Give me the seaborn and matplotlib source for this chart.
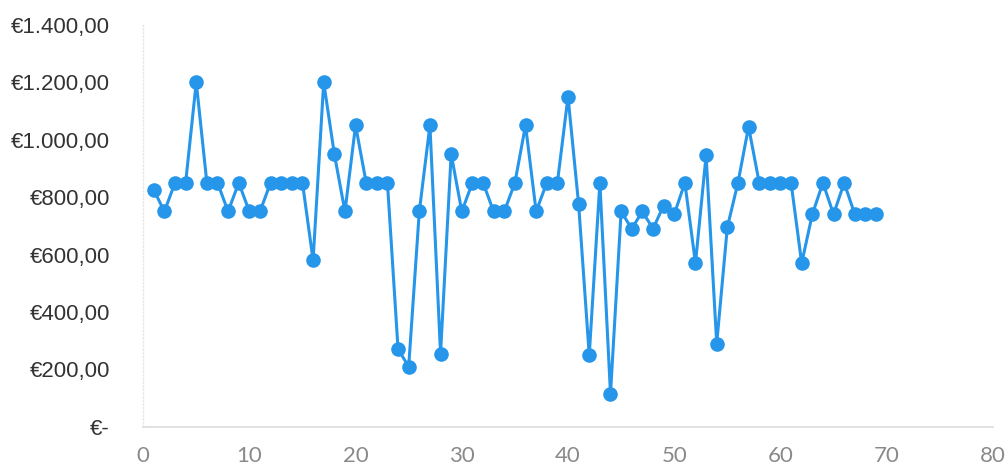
import numpy as np
import pandas as pd
import matplotlib
matplotlib.use("Agg")
import matplotlib.pyplot as plt
import seaborn as sns
from matplotlib.ticker import FuncFormatter

# values (euro amounts per index)
index = list(range(1, 70))
amount = [
    825, 750, 850, 850, 1200, 850, 850, 750, 850, 750,
    750, 850, 850, 850, 850, 580, 1200, 950, 750, 1050,
    850, 850, 850, 270, 210, 750, 1050, 255, 950, 750,
    850, 850, 750, 750, 850, 1050, 750, 850, 850, 1150,
    775, 250, 850, 115, 750, 690, 750, 690, 770, 740,
    850, 570, 945, 290, 695, 850, 1045, 850, 850, 850,
    850, 570, 740, 850, 740, 850, 740, 740, 740,
]
y_ticks = [0, 200, 400, 600, 800, 1000, 1200, 1400]
x_ticks = [0, 10, 20, 30, 40, 50, 60, 70, 80]

df = pd.DataFrame({"index": index, "amount": amount})

sns.set_style("white")
plt.rcParams["font.family"] = ["Liberation Sans", "DejaVu Sans"]

fig = plt.figure(figsize=(10.08, 4.69), dpi=100)
ax = fig.add_axes([0.142, 0.09, 0.843, 0.857])

sns.lineplot(data=df, x="index", y="amount", ax=ax, color="#2596ea",
             linewidth=2.2, marker="o", markersize=10.5, markeredgewidth=0)


def euro(v, pos):
    if v == 0:
        return "€-"
    s = f"{v:,.2f}".replace(",", "X").replace(".", ",").replace("X", ".")
    return "€" + s


ax.set_xlim(0, 80)
ax.set_ylim(0, 1400)
ax.set_xticks(x_ticks)
ax.set_yticks(y_ticks)
ax.yaxis.set_major_formatter(FuncFormatter(euro))
ax.set_xlabel("")
ax.set_ylabel("")

ax.tick_params(axis="y", length=0, pad=24, labelsize=16, labelcolor="#333333")
ax.tick_params(axis="x", length=0, pad=14, labelsize=16, labelcolor="#8a8a8a")
for lbl in ax.get_xticklabels():
    lbl.set_family(["Lato", "Liberation Sans"])

for side in ["top", "right"]:
    ax.spines[side].set_visible(False)
ax.spines["bottom"].set_color("#dcdcdc")
ax.spines["bottom"].set_linewidth(1.2)
ax.spines["left"].set_color("#e6e6e6")
ax.spines["left"].set_linestyle(":")
ax.spines["left"].set_linewidth(1.0)

fig.savefig("out.png", dpi=100)
